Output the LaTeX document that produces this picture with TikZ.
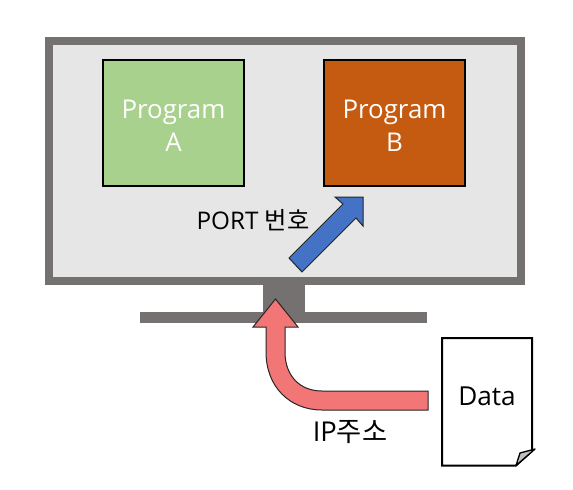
\documentclass[tikz,border=0pt]{standalone}
\usepackage{fontspec}
\setmainfont{Open Sans}
\newfontfamily\kr{Noto Sans CJK KR}
\definecolor{mongray}{HTML}{767171}
\definecolor{screen}{HTML}{E6E6E6}
\definecolor{pgreen}{HTML}{A9D18E}
\definecolor{porange}{HTML}{C55A11}
\definecolor{ablue}{HTML}{4472C4}
\definecolor{ared}{HTML}{F27676}
\definecolor{foldgray}{HTML}{C0C0C0}
\tikzset{
  progbox/.style={draw=black,line width=1.5pt,minimum width=105.5pt,minimum height=94pt,inner sep=0pt,align=center,text=white,font=\fontsize{19.4}{24.5}\selectfont},
  lbl/.style={inner sep=0pt,text=black,font=\fontsize{18.2}{22}\selectfont},
  arrowshape/.style={draw=black!85,line width=0.75pt,line join=miter}
}
\begin{document}
\begin{tikzpicture}[x=0.75pt,y=-0.75pt]
\useasboundingbox (0,0) rectangle (573,489);
% monitor
\draw[draw=mongray,fill=screen,line width=6pt] (49,41) rectangle (521,281);
\fill[mongray] (263,285) rectangle (305,313);
\fill[mongray] (140,312) rectangle (427,323);
% programs
\node[progbox,fill=pgreen] (pa) at (173.5,123) {\rule{0pt}{18pt}Program\\A};
\node[progbox,fill=porange] (pb) at (394.5,123) {\rule{0pt}{18pt}Program\\B};
% blue arrow
\draw[arrowshape,fill=ablue] (289,258) -- (343,204) -- (335,197) -- (363,197) -- (363,226) -- (356,218) -- (302,272) -- cycle;
% red arrow
\draw[arrowshape,fill=ared] (428,391) -- (322,391) .. controls (300,391) and (285,376) .. (285,352) -- (285,327) -- (298,327) -- (275.5,299) -- (253,327) -- (266,327) -- (266,352) .. controls (266,387) and (290,410) .. (322,410) -- (428,410) -- cycle;
% data document
\draw[draw=black,fill=white,line width=1.5pt] (442,338) -- (532,338) -- (532,451) -- (516,465.5) -- (442,465.5) -- cycle;
\draw[draw=black,fill=foldgray,line width=1pt,line join=round] (535,449) -- (520,453) -- (516,465.5) -- cycle;
\node[lbl,font=\fontsize{19.6}{24}\selectfont] (data) at (487,396) {Data};
\node[lbl] (port) at (253,220) {PORT {\kr 번호}};
\node[lbl,font=\fontsize{20.5}{24}\selectfont] (ip) at (350,432) {IP{\kr 주소}};
\end{tikzpicture}
\end{document}
